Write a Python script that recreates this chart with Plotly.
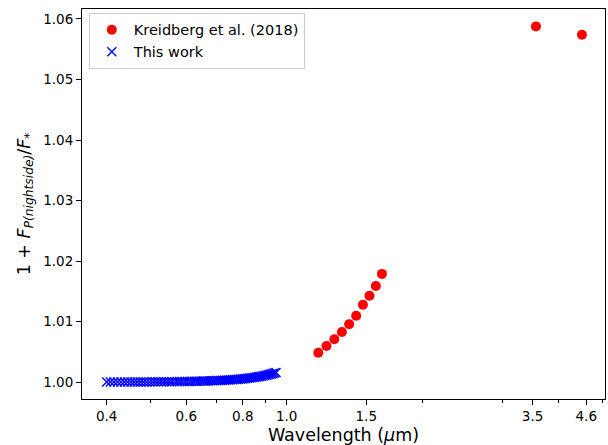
import plotly.graph_objects as go

# Kreidberg et al. (2018): HST/WFC3 bins and Spitzer 3.6 / 4.5 um
kreidberg_wl = [1.175, 1.225, 1.275, 1.325, 1.375, 1.425, 1.475, 1.525, 1.575, 1.625, 3.56, 4.50]
kreidberg_flux = [1.00489, 1.00600, 1.00710, 1.00830, 1.00960, 1.01100, 1.01280, 1.01430,
                  1.01590, 1.01790, 1.05878, 1.05740]

# This work: optical nightside contribution
this_wl = [0.4000, 0.4075, 0.4150, 0.4225, 0.4300, 0.4375, 0.4450, 0.4525, 0.4600, 0.4675,
           0.4750, 0.4825, 0.4900, 0.4975, 0.5050, 0.5125, 0.5200, 0.5275, 0.5350, 0.5425,
           0.5500, 0.5575, 0.5650, 0.5725, 0.5800, 0.5875, 0.5950, 0.6025, 0.6100, 0.6175,
           0.6250, 0.6325, 0.6400, 0.6475, 0.6550, 0.6625, 0.6700, 0.6775, 0.6850, 0.6925,
           0.7000, 0.7075, 0.7150, 0.7225, 0.7300, 0.7375, 0.7450, 0.7525, 0.7600, 0.7675,
           0.7750, 0.7825, 0.7900, 0.7975, 0.8050, 0.8125, 0.8200, 0.8275, 0.8350, 0.8425,
           0.8500, 0.8575, 0.8650, 0.8725, 0.8800, 0.8875, 0.8950, 0.9025, 0.9100, 0.9175,
           0.9250, 0.9325, 0.9400, 0.9475]
this_flux = [1.000033, 1.000035, 1.000037, 1.000039, 1.000041, 1.000044, 1.000046, 1.000049, 1.000051, 1.000054,
             1.000057, 1.000060, 1.000063, 1.000067, 1.000070, 1.000074, 1.000078, 1.000083, 1.000087, 1.000092,
             1.000097, 1.000102, 1.000108, 1.000114, 1.000120, 1.000126, 1.000133, 1.000140, 1.000148, 1.000156,
             1.000165, 1.000174, 1.000183, 1.000193, 1.000204, 1.000215, 1.000227, 1.000239, 1.000252, 1.000266,
             1.000280, 1.000295, 1.000312, 1.000329, 1.000347, 1.000365, 1.000385, 1.000406, 1.000429, 1.000452,
             1.000477, 1.000503, 1.000530, 1.000559, 1.000590, 1.000622, 1.000656, 1.000692, 1.000729, 1.000769,
             1.000811, 1.000855, 1.000902, 1.000951, 1.001003, 1.001058, 1.001116, 1.001177, 1.001241, 1.001309,
             1.001380, 1.001456, 1.001535, 1.001619]

x_tick_vals = [0.4, 0.6, 0.8, 1.0, 1.5, 3.5, 4.6]
x_tick_text = ["0.4", "0.6", "0.8", "1.0", "1.5", "3.5", "4.6"]
x_minor_vals = [0.5, 0.7, 0.9, 2, 3, 4, 5]
y_tick_vals = [1.00, 1.01, 1.02, 1.03, 1.04, 1.05, 1.06]

FONT = "DejaVu Sans"

fig = go.Figure()
fig.add_trace(go.Scatter(
    x=kreidberg_wl, y=kreidberg_flux, mode="markers", name="Kreidberg et al. (2018)",
    marker=dict(symbol="circle", size=10, color="#ff0000", line=dict(width=0)),
))
fig.add_trace(go.Scatter(
    x=this_wl, y=this_flux, mode="markers", name="This work",
    marker=dict(symbol="x-thin", size=9, color="#0000ff", line=dict(width=1.4, color="#0000ff")),
))

axis_common = dict(
    showline=True, linecolor="black", linewidth=1.1, mirror=True,
    showgrid=False, zeroline=False, ticks="outside", ticklen=5, tickwidth=1.1,
    tickcolor="black", tickfont=dict(family=FONT, size=13.5, color="black"),
)

fig.update_layout(
    width=608, height=445,
    margin=dict(l=82, r=3, t=9, b=46),
    paper_bgcolor="white", plot_bgcolor="white",
    font=dict(family=FONT, color="black"),
    showlegend=True,
    legend=dict(
        x=0.013, y=0.99, xanchor="left", yanchor="top",
        bgcolor="rgba(255,255,255,0.8)", bordercolor="#cccccc", borderwidth=1,
        font=dict(family=FONT, size=14.5, color="black"),
        itemwidth=34, tracegroupgap=0,
    ),
    xaxis=dict(
        type="log", range=[-0.4526, 0.7042],
        tickmode="array", tickvals=x_tick_vals, ticktext=x_tick_text,
        minor=dict(tickmode="array", tickvals=x_minor_vals, ticks="outside",
                   ticklen=2.5, tickwidth=0.8, tickcolor="black", showgrid=False),
        title=dict(text="Wavelength (<i>μ</i>m)", font=dict(family=FONT, size=17.5), standoff=6),
        **axis_common,
    ),
    yaxis=dict(
        range=[0.99724, 1.06165],
        tickmode="array", tickvals=y_tick_vals, tickformat=".2f",
        title=dict(
            text="1 + <i>F</i><sub><i>P(nightside)</i></sub>/<i>F</i><sub>*</sub>",
            font=dict(family=FONT, size=17.5), standoff=8,
        ),
        **axis_common,
    ),
)

fig.write_html("out.html")
